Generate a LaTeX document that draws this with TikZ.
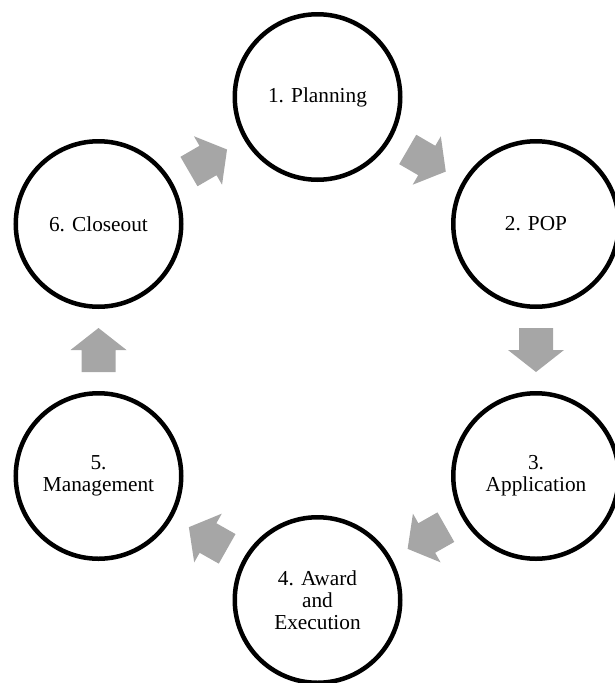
\documentclass[tikz,border=0pt]{standalone}
\usepackage{fontspec}
\setmainfont{Liberation Serif}
\definecolor{arrowgray}{HTML}{A6A6A6}
\tikzset{
  stage/.style={circle, draw=black, line width=4.5pt, minimum size=165.5pt, inner sep=0pt,
    align=center, font=\fontsize{21.3}{22}\selectfont},
  blockarrow/.pic={\fill[arrowgray] (-22,-17) -- (0,-17) -- (0,-28) -- (22,0) -- (0,28) -- (0,17) -- (-22,17) -- cycle;},
  flow/.style={pos=0.5, sloped, allow upside down}
}
\begin{document}
\begin{tikzpicture}[x=1pt,y=-1pt]
\useasboundingbox (0,0) rectangle (615,683);
\clip (0,0) rectangle (615,683);
\node[stage] (n1) at (317.5,97) {1. Planning};
\node[stage] (n2) at (536,224) {2. POP};
\node[stage] (n3) at (536,476) {3.\\Application};
\node[stage] (n4) at (317.5,600) {4. Award\\and\\Execution};
\node[stage] (n5) at (98.5,476) {5.\\Management};
\node[stage] (n6) at (98.5,224) {6. Closeout};
\path (n1) -- (n2) pic[flow] {blockarrow};
\path (n2) -- (n3) pic[flow] {blockarrow};
\path (n3) -- (n4) pic[flow] {blockarrow};
\path (n4) -- (n5) pic[flow] {blockarrow};
\path (n5) -- (n6) pic[flow] {blockarrow};
\path (n6) -- (n1) pic[flow] {blockarrow};
\end{tikzpicture}
\end{document}
